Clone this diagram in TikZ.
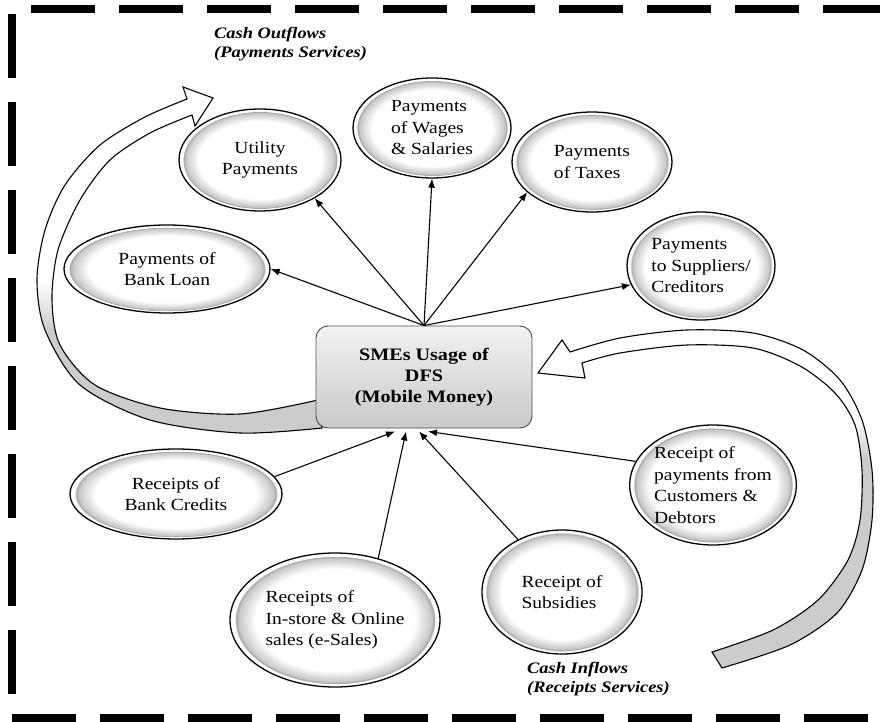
\documentclass[tikz,border=0pt]{standalone}
\usepackage{fontspec}
\setmainfont{Liberation Serif}[FakeStretch=1.15]
\usetikzlibrary{shapes.geometric,arrows.meta}
\pgfdeclareradialshading{ovalshade}{\pgfpoint{0bp}{0bp}}{color(0bp)=(white); color(19bp)=(white); color(22.9bp)=(gray!42); color(23.6bp)=(gray!70); color(23.9bp)=(white); color(25bp)=(white); color(50bp)=(white)}
\pgfdeclareverticalshading{bandL}{100bp}{color(0bp)=(gray!40); color(40bp)=(gray!40); color(47bp)=(white); color(100bp)=(white)}
\pgfdeclareverticalshading{bandR}{100bp}{color(0bp)=(gray!40); color(56bp)=(gray!40); color(62bp)=(white); color(100bp)=(white)}
\tikzset{
  oval/.style={ellipse, draw=black, line width=1.3pt,
    shading=ovalshade, inner sep=0pt, align=center,
    font=\fontsize{17}{21.5}\selectfont},
  hub/.style={rectangle, rounded corners=12pt, draw=gray!60!black, line width=0.9pt,
    top color=gray!10, bottom color=gray!42, minimum width=216pt, minimum height=102pt,
    align=center, inner sep=0pt, font=\fontsize{17.5}{21}\selectfont\bfseries},
  conn/.style={line width=1.1pt, -{Latex[length=9pt,width=7pt]}},
  blockarrow/.style={draw=black, line width=1.1pt, line join=miter},
  border/.style={line width=8pt, dash pattern=on 64pt off 24pt},
  flowlabel/.style={anchor=north west, inner sep=0pt, align=left,
    font=\fontsize{16}{19.5}\selectfont\bfseries\itshape}
}
\begin{document}
\begin{tikzpicture}[x=1pt,y=-1pt]
\useasboundingbox (0,0) rectangle (880,722);
% dashed frame
\draw[border] (31,9) -- (880,9);
\draw[border] (12,718) -- (868,718);
\draw[border] (12,14) -- (12,694);

% curved block arrows
\draw[blockarrow, shading=bandL]
  plot[smooth] coordinates {(322,428) (240,433) (150,420) (80,385) (45,330) (37,280) (45,230) (65,185) (100,145) (145,117) (187,99)}
  -- (183,87) -- (213,98) -- (195,126) -- (192,115)
  -- plot[smooth] coordinates {(192,115) (150,133) (110,160) (80,200) (58,250) (52,300) (60,345) (95,385) (160,408) (240,414) (318,400)}
  -- cycle;
\draw[blockarrow, shading=bandR]
  plot[smooth] coordinates {(712,652) (773,630) (818,600) (848,560) (860,520) (862,470) (855,425) (835,393) (800,366) (753,348) (687,345) (620,353) (582,363)}
  -- (585,378) -- (538,373) -- (562,340) -- (570,352)
  -- plot[smooth] coordinates {(570,352) (620,338) (687,330) (753,333) (803,350) (840,380) (862,420) (872,470) (872,520) (862,570) (837,613) (790,645) (722,668)}
  -- cycle;

% central box
\node[hub] (box) at (424,377) {SMEs Usage of\\DFS\\(Mobile Money)};

% outflow ellipses
\node[oval, minimum width=206pt, minimum height=88pt] (bl) at (167,269) {Payments of\\Bank Loan};
\node[oval, minimum width=162pt, minimum height=102pt] (ut) at (260,160) {Utility\\Payments};
\node[oval, minimum width=158pt, minimum height=100pt, align=left] (wg) at (432,128) {Payments\\of Wages\\\& Salaries};
\node[oval, minimum width=160pt, minimum height=100pt, align=left] (tx) at (592,162) {Payments\\of Taxes};
\node[oval, minimum width=148pt, minimum height=108pt, align=left] (sp) at (701,266) {Payments\\to Suppliers/\\Creditors};

% inflow ellipses
\node[oval, minimum width=212pt, minimum height=90pt] (bc) at (176,494) {Receipts of\\Bank Credits};
\node[oval, minimum width=210pt, minimum height=134pt, align=left] (ins) at (335,620) {Receipts of\\In-store \& Online\\sales (e-Sales)};
\node[oval, minimum width=160pt, minimum height=124pt, align=left] (sb) at (562,592) {Receipt of\\Subsidies};
\node[oval, minimum width=164pt, minimum height=120pt, align=left] (cu) at (713,485) {Receipt of\\payments from\\Customers \&\\Debtors};

% outflow connectors
\draw[conn] (box.north) -- (bl.east);
\draw[conn] (box.north) -- (ut.-35);
\draw[conn] (box.north) -- (wg.south);
\draw[conn] (box.north) -- (tx.-155);
\draw[conn] (box.north) -- (sp.195);

% inflow connectors
\draw[conn] (bc.10) -- ([xshift=-29pt,yshift=-3pt]box.south);
\draw[conn] (ins.55) -- ([xshift=-18pt,yshift=-3pt]box.south);
\draw[conn] (sb.130) -- ([xshift=-5pt,yshift=-3pt]box.south);
\draw[conn] (cu.163) -- ([xshift=4pt,yshift=-3pt]box.south);

% flow labels
\node[flowlabel] (outlbl) at (214,27) {Cash Outflows\\(Payments Services)};
\node[flowlabel] (inlbl) at (527,662) {Cash Inflows\\(Receipts Services)};
\end{tikzpicture}
\end{document}
